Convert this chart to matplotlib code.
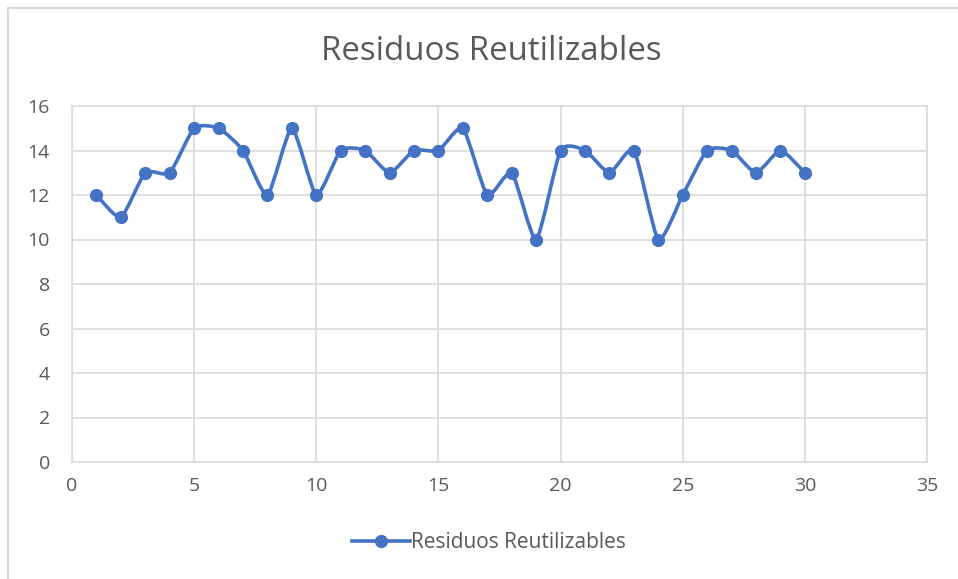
import numpy as np
import matplotlib
matplotlib.use("Agg")
import matplotlib.pyplot as plt
from matplotlib.path import Path
from matplotlib.patches import PathPatch, Rectangle
from matplotlib.lines import Line2D

plt.rcParams['font.family'] = ['Open Sans', 'DejaVu Sans']

dias = list(range(1, 31))
residuos = [12, 11, 13, 13, 15, 15, 14, 12, 15, 12,
            14, 14, 13, 14, 14, 15, 12, 13, 10, 14,
            14, 13, 14, 10, 12, 14, 14, 13, 14, 13]
titulo = "Residuos Reutilizables"
serie = "Residuos Reutilizables"
color = "#4472C4"
gris = "#595959"

fig = plt.figure(figsize=(9.58, 5.79), dpi=100)
# chart border
fig.patches.append(Rectangle((8/958, -0.01), 1.0, 1 - 8/579 + 0.01, transform=fig.transFigure,
                             fill=False, edgecolor="#D9D9D9", linewidth=1.5))

ax = fig.add_axes([72/958, 1 - 462/579, (927-72)/958, (462-106)/579])
ax.set_xlim(0, 35)
ax.set_ylim(0, 16)
ax.set_xticks(range(0, 36, 5))
ax.set_yticks(range(0, 17, 2))
ax.grid(True, color="#D9D9D9", linewidth=1.2)
ax.set_axisbelow(True)
for s in ax.spines.values():
    s.set_color("#D9D9D9")
    s.set_linewidth(1.2)
ax.tick_params(length=0, colors=gris, labelsize=14)
ax.tick_params(axis='x', pad=11)
ax.tick_params(axis='y', pad=16)

# smoothed line (Bezier through data points, Excel-like)
k = 0.1
x = np.array(dias, dtype=float)
y = np.array(residuos, dtype=float)
verts = [(x[0], y[0])]
codes = [Path.MOVETO]
n = len(x)
for i in range(n - 1):
    p0 = (x[i-1], y[i-1]) if i > 0 else (x[i], y[i])
    p1 = (x[i], y[i])
    p2 = (x[i+1], y[i+1])
    p3 = (x[i+2], y[i+2]) if i + 2 < n else (x[i+1], y[i+1])
    c1 = (p1[0] + (p2[0]-p0[0])*k, p1[1] + (p2[1]-p0[1])*k)
    c2 = (p2[0] - (p3[0]-p1[0])*k, p2[1] - (p3[1]-p1[1])*k)
    verts += [c1, c2, p2]
    codes += [Path.CURVE4]*3
ax.add_patch(PathPatch(Path(verts, codes), fill=False, edgecolor=color, linewidth=2.6,
                       capstyle='round', joinstyle='round'))
ax.plot(x, y, linestyle='none', marker='o', markersize=8.5, color=color)

fig.text(491/958, 1 - 51/579, titulo, ha='center', va='center', fontsize=23.8, color=gris)

handle = Line2D([], [], color=color, linewidth=2.6, marker='o', markersize=8.5)
fig.legend([handle], [serie], loc='center', bbox_to_anchor=(489/958, 1 - 543/579),
           frameon=False, fontsize=15, labelcolor=gris, handlelength=2.8, handletextpad=0.05)

fig.savefig("out.png", dpi=100)
